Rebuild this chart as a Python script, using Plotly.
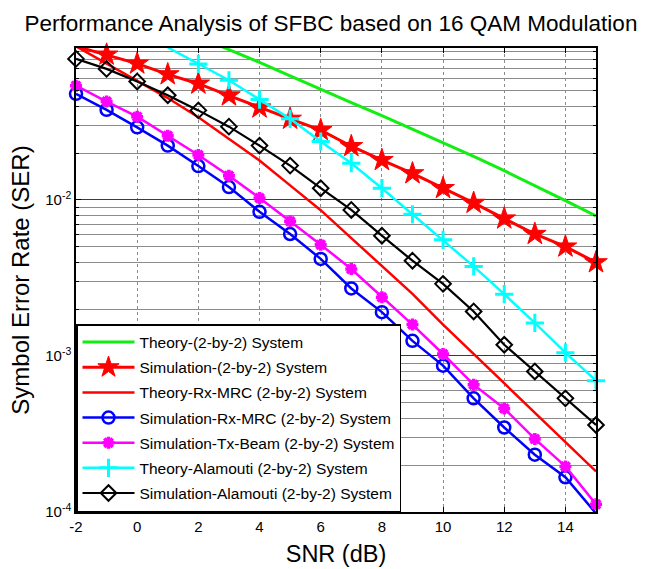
import plotly.graph_objects as go

snr = [-2, -1, 0, 1, 2, 3, 4, 5, 6, 7, 8, 9, 10, 11, 12, 13, 14, 15]

theory_2x2 = [0.219, 0.186, 0.158, 0.133, 0.111, 0.0923, 0.0762, 0.0624, 0.0509, 0.042,
              0.0347, 0.0285, 0.0234, 0.019, 0.0154, 0.0124, 0.0099, 0.0079]
sim_2x2 = [0.0966, 0.0853, 0.0748, 0.0638, 0.0556, 0.0467, 0.0391, 0.0331, 0.028, 0.0221,
           0.018, 0.0148, 0.0119, 0.00957, 0.0076, 0.00605, 0.00502, 0.00398]
theory_mrc = [0.0966, 0.0748, 0.0575, 0.045, 0.0339, 0.0246, 0.0179, 0.0124, 0.0086, 0.0057,
              0.0038, 0.0025, 0.00159, 0.00103, 0.000667, 0.000437, 0.000282, 0.000182]
sim_mrc = [0.0479, 0.0378, 0.0292, 0.0223, 0.0165, 0.0121, 0.0084, 0.00605, 0.00419, 0.00271,
           0.00191, 0.00125, 0.000867, 0.000535, 0.000348, 0.000233, 0.000167, 0.000098]
sim_txbeam = [0.054, 0.0427, 0.0342, 0.0258, 0.0194, 0.0143, 0.0103, 0.0073, 0.00517, 0.00361,
              0.00238, 0.00159, 0.00103, 0.000655, 0.000461, 0.000294, 0.000196, 0.000112]
theory_alamouti = [None, None, None, 0.095, 0.0745, 0.0585, 0.044, 0.0331, 0.0237, 0.0172,
                   0.0119, 0.0081, 0.00555, 0.00375, 0.00249, 0.00163, 0.00105, 0.000695]
sim_alamouti = [0.0802, 0.0692, 0.0575, 0.0469, 0.0375, 0.0295, 0.0223, 0.0166, 0.0119, 0.00863,
                0.0059, 0.00408, 0.0029, 0.00193, 0.00118, 0.000796, 0.000535, 0.000361]

x_ticks = [-2, 0, 2, 4, 6, 8, 10, 12, 14]
x_ticktext = ["-2", "0", "2", "4", "6", "8", "10", "12", "14"]
y_ticks = [1e-4, 1e-3, 1e-2]
y_ticktext = ["10<sup>-4</sup>", "10<sup>-3</sup>", "10<sup>-2</sup>"]
y_minor = [m * 10.0 ** e for e in (-4, -3, -2) for m in range(2, 10)]

FONT = "Liberation Sans, Arial, sans-serif"

fig = go.Figure()

def add(name, y, color, width, symbol=None, size=10, mline=2, mfill=None, group=""):
    kw = dict(x=snr, y=y, name=name, legendgroup=group, cliponaxis=False,
              line=dict(color=color, width=width))
    if symbol is None:
        kw["mode"] = "lines"
    else:
        kw["mode"] = "lines+markers"
        kw["marker"] = dict(symbol=symbol, size=size,
                            color=mfill if mfill else color,
                            line=dict(color=color, width=mline))
    fig.add_trace(go.Scatter(**kw))

add("Theory-(2-by-2) System", theory_2x2, "#11ee11", 3, group="a")
add("Simulation-(2-by-2) System", sim_2x2, "#ff0000", 3, symbol="star", size=17, mline=1, group="b")
add("Theory-Rx-MRC (2-by-2) System", theory_mrc, "#ff0000", 2.5, group="c")
add("Simulation-Rx-MRC (2-by-2) System", sim_mrc, "#0000ff", 2.5, symbol="circle-open", size=12, mline=2.5, group="d")
add("Simulation-Tx-Beam (2-by-2) System", sim_txbeam, "#ff00ff", 2.5, symbol="asterisk-open", size=10, mline=3.5, group="e")
add("Theory-Alamouti (2-by-2) System", theory_alamouti, "#00ffff", 2.5, symbol="cross-thin-open", size=13, mline=3, group="f")
add("Simulation-Alamouti (2-by-2) System", sim_alamouti, "#000000", 2.2, symbol="diamond-open", size=12, mline=2, group="g")

fig.update_layout(
    width=662, height=569,
    margin=dict(l=76, r=66, t=48, b=57),
    paper_bgcolor="white", plot_bgcolor="white",
    font=dict(family=FONT, color="black"),
    title=dict(text="Performance Analysis of SFBC based on 16 QAM Modulation",
               font=dict(size=22.5, family=FONT, color="black"),
               x=0.5, xref="container", xanchor="center",
               y=1 - 23 / 569, yref="container", yanchor="middle"),
    legend=dict(x=0, y=0, xanchor="left", yanchor="bottom",
                bgcolor="white", bordercolor="black", borderwidth=1.5,
                font=dict(size=15.5, family=FONT, color="black"),
                traceorder="grouped", tracegroupgap=2, itemwidth=52),
    showlegend=True,
)

fig.update_xaxes(
    range=[-2, 15], tickvals=x_ticks, ticktext=x_ticktext,
    showline=True, linecolor="black", linewidth=1.5, mirror="allticks",
    ticks="inside", ticklen=5, tickcolor="black",
    tickfont=dict(size=15, family=FONT, color="black"),
    showgrid=True, gridcolor="#8a8a8a", gridwidth=1, griddash="dot",
    zeroline=False, automargin=False,
    title=dict(text="SNR (dB)", font=dict(size=23.5, family=FONT, color="black"), standoff=12),
)

fig.update_yaxes(
    type="log", range=[-4, -1.026],
    tickvals=y_ticks, ticktext=y_ticktext,
    showline=True, linecolor="black", linewidth=1.5, mirror="allticks",
    ticks="inside", ticklen=5, tickcolor="black",
    tickfont=dict(size=15, family=FONT, color="black"),
    showgrid=True, gridcolor="#3a3a3a", gridwidth=1,
    zeroline=False, automargin=False,
    minor=dict(tickvals=y_minor, ticks="inside", ticklen=3, tickcolor="black",
               showgrid=True, gridcolor="#8c8c8c", gridwidth=1),
    title=dict(text="Symbol Error Rate (SER)", font=dict(size=24, family=FONT, color="black"), standoff=9),
)

fig.write_html("out.html")
